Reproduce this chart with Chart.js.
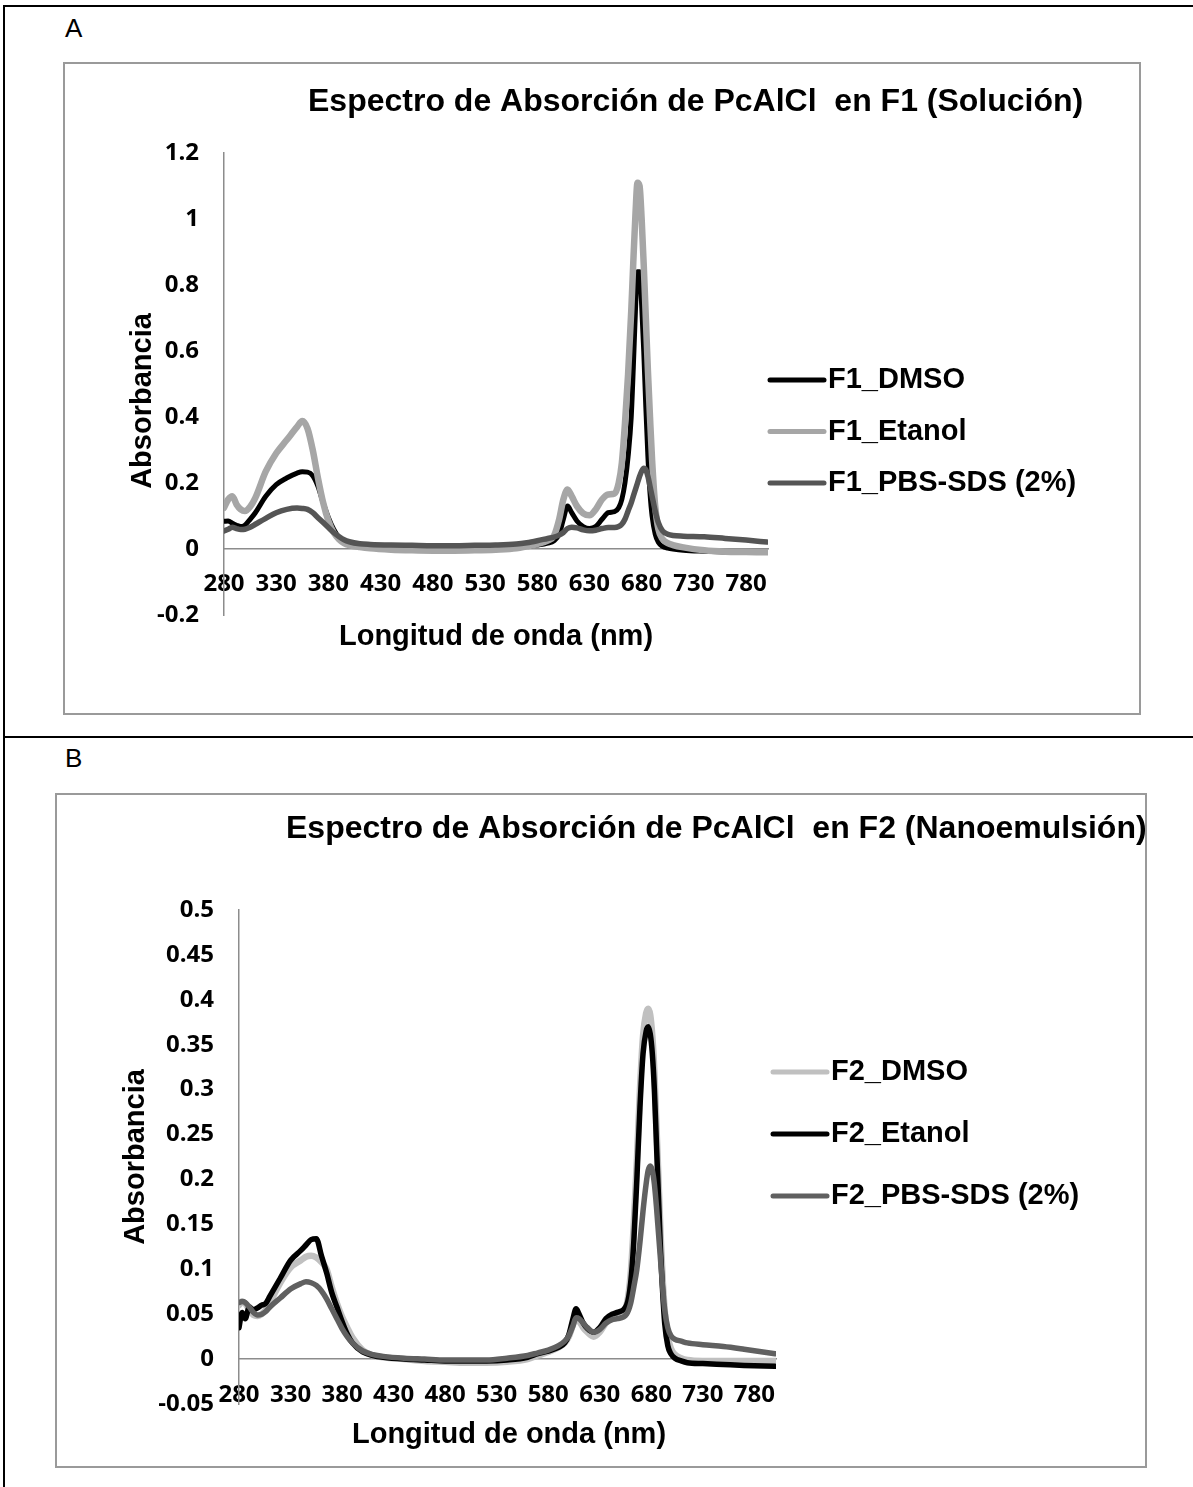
<!DOCTYPE html>
<html>
<head>
<meta charset="utf-8">
<title>Espectros de absorción PcAlCl</title>
<script src="https://cdn.jsdelivr.net/npm/chart.js@4.4.1/dist/chart.umd.min.js"></script>
<style>
    body { margin: 0; background: #fff; width: 1193px; height: 1487px; position: relative; overflow: hidden;
           font-family: "Liberation Sans", Arial, sans-serif; }
    .rule { position: absolute; background: #000; }
    .panel-label { position: absolute; left: 65px; font-size: 26px; line-height: 26px; }
    .box { position: absolute; border: 2px solid #9a9a9a; box-sizing: border-box; }
    .box div { position: absolute; left: 0; top: 0; }
</style>
</head>
<body>
<div class="rule" style="left:3px; top:5px; width:1190px; height:2px;"></div>
<div class="rule" style="left:3px; top:5px; width:2px; height:1482px;"></div>
<div class="rule" style="left:3px; top:736px; width:1190px; height:2px;"></div>

<div class="panel-label" style="top:15px;">A</div>
<div class="box" style="left:63px; top:62px; width:1078px; height:653px;">
    <div style="width:1074px; height:649px;"><canvas id="chartA"></canvas></div>
</div>

<div class="panel-label" style="top:745px;">B</div>
<div class="box" style="left:55px; top:793px; width:1092px; height:675px;">
    <div style="width:1088px; height:671px;"><canvas id="chartB"></canvas></div>
</div>

<script>
// eje x compartido
const xTicks = [280, 330, 380, 430, 480, 530, 580, 630, 680, 730, 780];

// ---- A: F1 (Solución) ----
const yTicksA = [-0.2, 0, 0.2, 0.4, 0.6, 0.8, 1, 1.2];
const nmA = [280, 284, 288, 292, 296, 300, 305, 310, 320, 330, 340, 350, 355, 360, 365, 370, 375, 380,
    385, 390, 395, 400, 410, 420, 440, 460, 480, 500, 520, 540, 560, 570, 580, 590, 596, 601, 605, 609,
    613, 618, 624, 630, 636, 642, 648, 654, 658, 661, 664, 667, 670, 672, 674, 676, 678, 680, 682, 684,
    686, 688, 690, 693, 696, 700, 705, 710, 720, 740, 760, 780, 800];
const f1Dmso = [0.084, 0.085, 0.078, 0.072, 0.068, 0.072, 0.09, 0.11, 0.16, 0.195, 0.215, 0.23, 0.234,
    0.233, 0.222, 0.19, 0.14, 0.095, 0.06, 0.035, 0.022, 0.015, 0.008, 0.004, 0, -0.002, -0.003, -0.003,
    -0.003, -0.002, 0.002, 0.008, 0.012, 0.018, 0.025, 0.045, 0.09, 0.13, 0.11, 0.085, 0.068, 0.062,
    0.068, 0.09, 0.11, 0.113, 0.125, 0.15, 0.2, 0.28, 0.4, 0.55, 0.72, 0.84, 0.84, 0.74, 0.6, 0.43,
    0.28, 0.17, 0.1, 0.045, 0.02, 0.008, 0.003, 0, -0.004, -0.007, -0.009, -0.01, -0.01];
const f1Etanol = [0.125, 0.15, 0.16, 0.135, 0.12, 0.115, 0.128, 0.155, 0.235, 0.29, 0.33, 0.37, 0.388,
    0.365, 0.3, 0.215, 0.14, 0.085, 0.05, 0.03, 0.018, 0.012, 0.006, 0.002, -0.002, -0.004, -0.005,
    -0.005, -0.004, -0.002, 0.002, 0.008, 0.015, 0.025, 0.04, 0.09, 0.15, 0.18, 0.16, 0.13, 0.108, 0.102,
    0.12, 0.15, 0.165, 0.168, 0.2, 0.26, 0.38, 0.53, 0.72, 0.87, 1.01, 1.11, 1.1, 1.0, 0.86, 0.7, 0.54,
    0.4, 0.27, 0.13, 0.06, 0.03, 0.018, 0.012, 0.005, -0.004, -0.008, -0.009, -0.01];
const f1PbsSds = [0.055, 0.06, 0.066, 0.062, 0.059, 0.06, 0.066, 0.075, 0.093, 0.11, 0.12, 0.124, 0.123,
    0.12, 0.11, 0.095, 0.08, 0.065, 0.05, 0.038, 0.028, 0.022, 0.016, 0.014, 0.012, 0.011, 0.01, 0.01,
    0.011, 0.012, 0.015, 0.019, 0.025, 0.032, 0.036, 0.042, 0.05, 0.062, 0.066, 0.064, 0.058, 0.055,
    0.057, 0.062, 0.065, 0.065, 0.068, 0.075, 0.09, 0.115, 0.14, 0.16, 0.18, 0.2, 0.22, 0.236, 0.245,
    0.24, 0.22, 0.19, 0.16, 0.115, 0.08, 0.055, 0.045, 0.041, 0.039, 0.037, 0.032, 0.027, 0.021];

// ---- B: F2 (Nanoemulsión) ----
const yTicksB = [-0.05, 0, 0.05, 0.1, 0.15, 0.2, 0.25, 0.3, 0.35, 0.4, 0.45, 0.5];
const nmB = [280, 283, 286, 290, 294, 298, 302, 306, 310, 320, 330, 340, 345, 350, 355, 360, 365, 370,
    375, 380, 385, 390, 400, 410, 420, 440, 460, 480, 500, 520, 540, 560, 570, 580, 590, 596, 600, 604,
    607, 610, 614, 618, 624, 630, 636, 642, 647, 656, 660, 663, 666, 669, 672, 675, 677, 679, 681, 683,
    685, 687, 689, 691, 693, 696, 699, 703, 709, 715, 730, 750, 770, 800];
const f2Dmso = [0.06, 0.064, 0.062, 0.055, 0.049, 0.048, 0.05, 0.055, 0.063, 0.085, 0.102, 0.11, 0.114,
    0.115, 0.113, 0.108, 0.1, 0.08, 0.062, 0.047, 0.035, 0.024, 0.01, 0.004, 0.002, 0, -0.002, -0.003,
    -0.004, -0.004, -0.003, 0, 0.004, 0.008, 0.013, 0.018, 0.025, 0.038, 0.045, 0.042, 0.035, 0.03,
    0.025, 0.03, 0.04, 0.045, 0.046, 0.06, 0.095, 0.15, 0.22, 0.3, 0.36, 0.385, 0.39, 0.383, 0.36, 0.32,
    0.26, 0.2, 0.14, 0.09, 0.055, 0.025, 0.012, 0.005, 0.001, -0.001, -0.002, -0.002, -0.002, -0.002];
const f2Etanol = [0.035, 0.052, 0.045, 0.058, 0.055, 0.057, 0.06, 0.062, 0.07, 0.09, 0.11, 0.121, 0.127,
    0.133, 0.134, 0.115, 0.096, 0.074, 0.058, 0.042, 0.028, 0.018, 0.008, 0.004, 0.002, 0, -0.001,
    -0.002, -0.002, -0.002, -0.001, 0.002, 0.006, 0.009, 0.013, 0.018, 0.027, 0.045, 0.056, 0.05, 0.04,
    0.034, 0.03, 0.035, 0.045, 0.05, 0.052, 0.06, 0.085, 0.13, 0.2, 0.28, 0.34, 0.365, 0.37, 0.362,
    0.34, 0.3, 0.24, 0.18, 0.12, 0.075, 0.04, 0.015, 0.006, 0.001, -0.002, -0.004, -0.005, -0.006,
    -0.007, -0.008];
const f2PbsSds = [0.063, 0.064, 0.063, 0.058, 0.052, 0.049, 0.05, 0.053, 0.058, 0.068, 0.078, 0.084,
    0.086, 0.085, 0.082, 0.076, 0.067, 0.056, 0.045, 0.034, 0.025, 0.018, 0.009, 0.005, 0.003, 0.001, 0,
    -0.001, -0.001, -0.001, 0.001, 0.004, 0.007, 0.01, 0.015, 0.02, 0.026, 0.037, 0.046, 0.045, 0.04,
    0.035, 0.03, 0.033, 0.04, 0.044, 0.045, 0.05, 0.062, 0.08, 0.1, 0.13, 0.165, 0.195, 0.21, 0.215,
    0.21, 0.195, 0.17, 0.14, 0.11, 0.08, 0.055, 0.035, 0.026, 0.022, 0.02, 0.018, 0.016, 0.014, 0.011,
    0.006];

const pts = (xs, ys) => xs.map((x, i) => ({ x: x, y: ys[i] }));
const num = v => String(Math.round(v * 100) / 100);

// títulos, nombres de ejes y leyenda a la derecha, en coordenadas del canvas
const panelText = {
    id: 'panelText',
    afterDraw(chart, args, o) {
        const ctx = chart.ctx;
        ctx.save();
        ctx.fillStyle = '#000';
        ctx.textBaseline = 'middle';
        ctx.textAlign = 'left';
        ctx.font = 'bold 32px "Liberation Sans", Arial, sans-serif';
        ctx.fillText(o.title, o.titleX, o.titleY);

        ctx.font = 'bold 29px "Liberation Sans", Arial, sans-serif';
        ctx.textAlign = 'center';
        ctx.fillText(o.xTitle, o.xTitleX, o.xTitleY);
        ctx.save();
        ctx.translate(o.yTitleX, o.yTitleY);
        ctx.rotate(-Math.PI / 2);
        ctx.fillText(o.yTitle, 0, 0);
        ctx.restore();

        ctx.textAlign = 'left';
        ctx.lineCap = 'round';
        chart.data.datasets.forEach((ds, i) => {
            const y = o.legendY + i * o.legendGap;
            ctx.strokeStyle = ds.borderColor;
            ctx.lineWidth = 5;
            ctx.beginPath();
            ctx.moveTo(o.legendX, y);
            ctx.lineTo(o.legendX + 54, y);
            ctx.stroke();
            ctx.fillText(ds.label, o.legendX + 58, y);
        });
        ctx.restore();
    }
};

function line(label, xs, ys, color, width, order) {
    return {
        label: label,
        data: pts(xs, ys),
        borderColor: color,
        backgroundColor: 'transparent',
        borderWidth: width,
        pointRadius: 0,
        cubicInterpolationMode: 'monotone',
        borderCapStyle: 'round',
        borderJoinStyle: 'round',
        order: order
    };
}

function makeChart(id, datasets, yTicks, yMin, yMax, yWidth, pad, tickPadX, text) {
    const tickFont = { family: '"Open Sans", sans-serif', size: 24, weight: 'bold' };
    return new Chart(document.getElementById(id), {
        type: 'line',
        data: { datasets: datasets },
        options: {
            responsive: true,
            maintainAspectRatio: false,
            animation: false,
            layout: { padding: pad },
            scales: {
                x: {
                    type: 'linear',
                    min: 280,
                    max: 801,
                    position: { y: 0 },
                    grid: { display: false, drawTicks: false },
                    border: { color: '#8c8c8c', width: 1.5 },
                    afterBuildTicks: s => { s.ticks = xTicks.map(v => ({ value: v })); },
                    ticks: { font: tickFont, color: '#000', padding: tickPadX, autoSkip: false,
                             maxRotation: 0, callback: v => String(v) }
                },
                y: {
                    min: yMin,
                    max: yMax,
                    grid: { display: false, drawTicks: false },
                    border: { color: '#8c8c8c', width: 1.5 },
                    afterBuildTicks: s => { s.ticks = yTicks.map(v => ({ value: v })); },
                    afterFit: s => { s.width = yWidth; },
                    ticks: { font: tickFont, color: '#000', padding: 25, callback: v => num(v) }
                }
            },
            plugins: {
                legend: { display: false },
                tooltip: { enabled: false },
                panelText: text
            }
        },
        plugins: [panelText]
    });
}

makeChart('chartA', [
    line('F1_DMSO', nmA, f1Dmso, '#000000', 5, 2),
    line('F1_Etanol', nmA, f1Etanol, '#a6a6a6', 6.5, 1),
    line('F1_PBS-SDS (2%)', nmA, f1PbsSds, '#555555', 5.5, 0)
], yTicksA, -0.2, 1.2, 159, { top: 89, right: 371, bottom: 98, left: 0 }, 21, {
    title: 'Espectro de Absorción de PcAlCl  en F1 (Solución)', titleX: 243, titleY: 38,
    xTitle: 'Longitud de onda (nm)', xTitleX: 431, xTitleY: 573,
    yTitle: 'Absorbancia', yTitleX: 78, yTitleY: 337,
    legendX: 705, legendY: 316, legendGap: 51.5
});

makeChart('chartB', [
    line('F2_DMSO', nmB, f2Dmso, '#c0c0c0', 6.5, 2),
    line('F2_Etanol', nmB, f2Etanol, '#000000', 5.5, 1),
    line('F2_PBS-SDS (2%)', nmB, f2PbsSds, '#606060', 5.5, 0)
], yTicksB, -0.05, 0.5, 182, { top: 115, right: 369, bottom: 62, left: 0 }, 22, {
    title: 'Espectro de Absorción de PcAlCl  en F2 (Nanoemulsión)', titleX: 229, titleY: 34,
    xTitle: 'Longitud de onda (nm)', xTitleX: 452, xTitleY: 640,
    yTitle: 'Absorbancia', yTitleX: 79, yTitleY: 362,
    legendX: 716, legendY: 277, legendGap: 62
});
</script>
</body>
</html>
